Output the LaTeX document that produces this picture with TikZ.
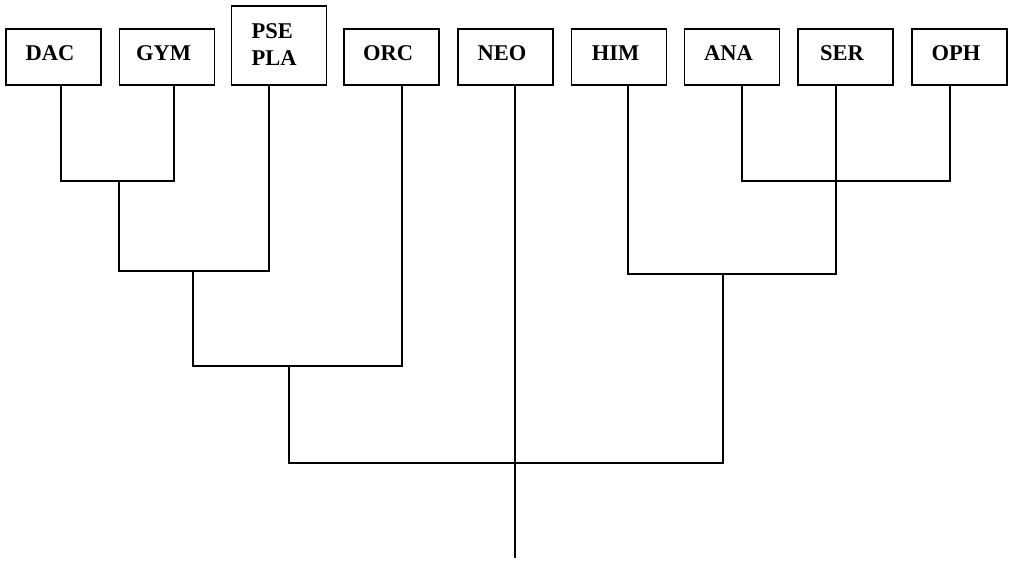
\documentclass[tikz,border=0pt]{standalone}
\usepackage{fontspec}
\setmainfont{Liberation Serif}
\begin{document}
\begin{tikzpicture}[x=1pt,y=-1pt,
  box/.style={draw, line width=1.6pt, minimum width=95pt, minimum height=56pt, inner sep=0pt},
  lbl/.style={inner sep=0pt, align=left, font=\fontsize{22.5}{27}\selectfont\bfseries},
  link/.style={line width=1.6pt, line join=miter}]
\useasboundingbox (0,0) rectangle (1009,560);
\node[box] (dac) at (53.5,57) {};
\node[box] (gym) at (167,57) {};
\node[box, minimum height=79pt] (pse) at (279,45.5) {};
\node[box] (orc) at (391.5,57) {};
\node[box] (neo) at (505.5,57) {};
\node[box] (him) at (619,57) {};
\node[box] (ana) at (732,57) {};
\node[box] (ser) at (845.5,57) {};
\node[box] (oph) at (959.5,57) {};
\node[lbl] (dact) at ([shift={(-3.5,-4)}]dac.center) {DAC};
\node[lbl] (gymt) at ([shift={(-3.5,-4)}]gym.center) {GYM};
\node[lbl] (pset) at ([shift={(-5,-1)}]pse.center) {PSE\\PLA};
\node[lbl] (orct) at ([shift={(-3.5,-4)}]orc.center) {ORC};
\node[lbl] (neot) at ([shift={(-3.5,-4)}]neo.center) {NEO};
\node[lbl] (himt) at ([shift={(-3.5,-4)}]him.center) {HIM};
\node[lbl] (anat) at ([shift={(-3.5,-4)}]ana.center) {ANA};
\node[lbl] (sert) at ([shift={(-3.5,-4)}]ser.center) {SER};
\node[lbl] (opht) at ([shift={(-3.5,-4)}]oph.center) {OPH};
% junction coordinates
\coordinate (a1) at (61,181);
\coordinate (a2) at (174,181);
\coordinate (am) at (119,181);
\coordinate (b1) at (119,271);
\coordinate (b2) at (269,271);
\coordinate (bm) at (193,271);
\coordinate (c1) at (193,366);
\coordinate (c2) at (402,366);
\coordinate (cm) at (289,366);
\coordinate (d1) at (289,463);
\coordinate (d2) at (723,463);
\coordinate (e1) at (628,274);
\coordinate (e2) at (836,274);
\coordinate (em) at (723,274);
\coordinate (f1) at (742,181);
\coordinate (f2) at (950,181);
\coordinate (root) at (515,558);
% connectors
\draw[link] (dac.south -| a1) -- (a1) -- (a2) -- (gym.south -| a2);
\draw[link] (am) -- (b1) -- (b2) -- (pse.south -| b2);
\draw[link] (bm) -- (c1) -- (c2) -- (orc.south -| c2);
\draw[link] (cm) -- (d1) -- (d2) -- (em);
\draw[link] (him.south -| e1) -- (e1) -- (e2) -- (ser.south -| e2);
\draw[link] (ana.south -| f1) -- (f1) -- (f2) -- (oph.south -| f2);
\draw[link] (neo.south -| root) -- (root);
\end{tikzpicture}
\end{document}
